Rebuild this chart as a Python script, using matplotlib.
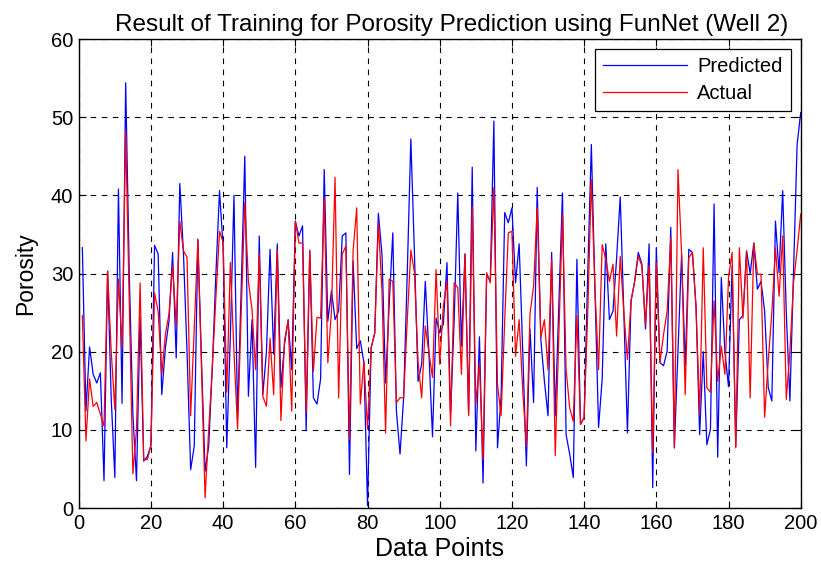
import numpy as np
import matplotlib
matplotlib.use("Agg")
import matplotlib.pyplot as plt

# values, x = 1..200
predicted = [
    33.3, 12.4, 20.6, 17.1, 16.0, 17.3, 3.5, 30.3, 14.0, 3.9,
    40.8, 13.4, 54.4, 30.0, 12.0, 3.5, 24.5, 6.0, 6.6, 8.0,
    33.6, 32.5, 14.5, 20.5, 23.9, 32.7, 19.2, 41.5, 32.7, 20.0,
    4.9, 7.9, 34.4, 19.0, 4.7, 7.9, 18.0, 30.0, 40.6, 33.3,
    7.7, 22.0, 40.0, 11.6, 28.0, 45.0, 14.3, 24.1, 5.2, 34.8,
    14.5, 20.0, 33.1, 19.7, 33.8, 15.4, 20.9, 24.1, 17.7, 36.7,
    34.8, 36.1, 9.9, 32.9, 14.1, 13.3, 16.5, 43.3, 23.9, 27.8,
    24.1, 25.2, 34.8, 35.2, 4.3, 31.6, 20.4, 21.4, 18.6, 0.3,
    20.5, 22.4, 37.7, 32.5, 16.0, 26.0, 35.2, 12.4, 6.9, 14.1,
    30.0, 47.2, 32.5, 16.2, 18.4, 29.0, 19.9, 9.1, 24.3, 22.4,
    23.5, 31.4, 12.0, 24.0, 40.3, 20.7, 32.5, 12.0, 43.6, 7.3,
    21.9, 3.2, 29.9, 29.0, 49.5, 7.7, 14.3, 37.8, 36.5, 38.4,
    28.8, 33.8, 20.0, 5.4, 22.9, 13.5, 41.0, 21.6, 16.2, 11.8,
    32.7, 11.8, 26.0, 40.3, 9.4, 6.9, 3.9, 31.8, 10.7, 11.6,
    30.0, 46.5, 28.0, 10.3, 16.5, 33.8, 24.1, 25.2, 32.0, 39.8,
    25.0, 9.6, 26.5, 29.0, 32.7, 31.2, 22.9, 33.8, 2.6, 33.3,
    18.6, 18.2, 20.1, 35.9, 7.7, 20.0, 32.5, 18.2, 33.1, 32.7,
    25.8, 9.4, 20.0, 8.1, 10.1, 38.9, 6.5, 29.5, 20.0, 15.5,
    31.0, 7.9, 24.1, 24.6, 32.9, 30.0, 33.9, 28.0, 29.0, 25.2,
    15.4, 13.7, 36.7, 30.1, 40.6, 25.0, 13.7, 30.0, 46.5, 50.6,
]
actual = [
    24.6, 8.6, 16.5, 13.0, 13.5, 12.0, 10.5, 30.3, 20.0, 12.6,
    29.3, 20.5, 48.2, 26.0, 4.4, 10.0, 28.8, 6.2, 6.2, 8.0,
    27.5, 25.2, 17.1, 22.2, 24.8, 31.0, 23.3, 36.7, 32.9, 32.1,
    11.8, 23.0, 34.2, 18.0, 1.3, 10.0, 18.0, 27.0, 35.4, 34.0,
    14.8, 31.4, 20.0, 10.1, 25.0, 39.1, 29.0, 25.4, 17.7, 32.5,
    14.3, 13.0, 21.7, 14.5, 33.0, 11.2, 21.4, 23.9, 12.4, 36.7,
    33.9, 33.9, 12.2, 33.0, 17.5, 24.4, 24.3, 39.7, 18.6, 25.2,
    42.3, 14.1, 32.5, 33.5, 8.8, 32.9, 38.4, 13.3, 18.8, 10.1,
    20.5, 22.4, 36.5, 27.8, 9.6, 29.3, 29.0, 13.5, 14.1, 14.1,
    24.0, 33.0, 30.1, 18.6, 14.1, 23.3, 19.9, 16.7, 30.5, 18.4,
    25.8, 29.0, 10.5, 28.8, 28.2, 17.1, 32.5, 11.8, 38.6, 13.3,
    18.4, 6.2, 30.1, 28.8, 41.0, 15.8, 11.8, 24.0, 35.2, 35.4,
    19.4, 24.1, 15.0, 7.9, 24.8, 28.4, 38.4, 21.8, 24.1, 17.7,
    31.8, 6.7, 22.0, 37.6, 17.7, 12.8, 11.1, 24.6, 10.7, 11.6,
    25.0, 42.0, 28.0, 17.7, 33.7, 31.8, 29.0, 31.2, 22.0, 32.2,
    25.0, 19.0, 26.5, 29.0, 32.2, 31.0, 23.5, 31.0, 7.1, 31.4,
    18.6, 22.2, 25.2, 34.6, 7.7, 43.3, 32.5, 14.5, 32.0, 32.7,
    25.6, 12.0, 33.3, 15.4, 14.8, 26.5, 16.2, 20.7, 17.1, 29.5,
    32.7, 7.7, 33.3, 24.3, 32.9, 14.1, 33.9, 29.9, 29.9, 11.6,
    18.8, 25.0, 33.3, 27.1, 34.8, 13.9, 20.0, 28.8, 33.0, 37.6,
]
x = np.arange(1, len(predicted) + 1)
xticks = list(range(0, 201, 20))
yticks = list(range(0, 61, 10))

plt.rcParams['font.family'] = ['Liberation Sans', 'DejaVu Sans']

fig = plt.figure(figsize=(8.21, 5.68), dpi=100)
ax = fig.add_axes([0.0959, 0.1056, 0.8794, 0.8257])

ax.plot(x, predicted, color='#0000ff', lw=0.9, label='Predicted')
ax.plot(x, actual, color='#ff0000', lw=0.9, label='Actual')

ax.set_xlim(0, 200)
ax.set_ylim(0, 60)
ax.set_xticks(xticks)
ax.set_yticks(yticks)
ax.tick_params(direction='in', top=True, right=True, labelsize=14.5, length=5, pad=4)
ax.grid(True, color='black', linestyle=(0, (5, 5)), lw=0.8)
for s in ax.spines.values():
    s.set_linewidth(1.0)

ax.set_title("Result of Training for Porosity Prediction using FunNet (Well 2)",
             fontsize=17.5, pad=6, x=0.517)
ax.set_xlabel("Data Points", fontsize=18, labelpad=3)
ax.set_ylabel("Porosity", fontsize=16.5, labelpad=10)

leg = ax.legend(loc='upper right', fontsize=14.5, fancybox=False, framealpha=1,
                edgecolor='black', handlelength=4.2, handletextpad=0.5,
                borderaxespad=0.5, labelspacing=0.4, borderpad=0.4)
leg.get_frame().set_linewidth(0.9)

fig.savefig("out.png", dpi=100)
